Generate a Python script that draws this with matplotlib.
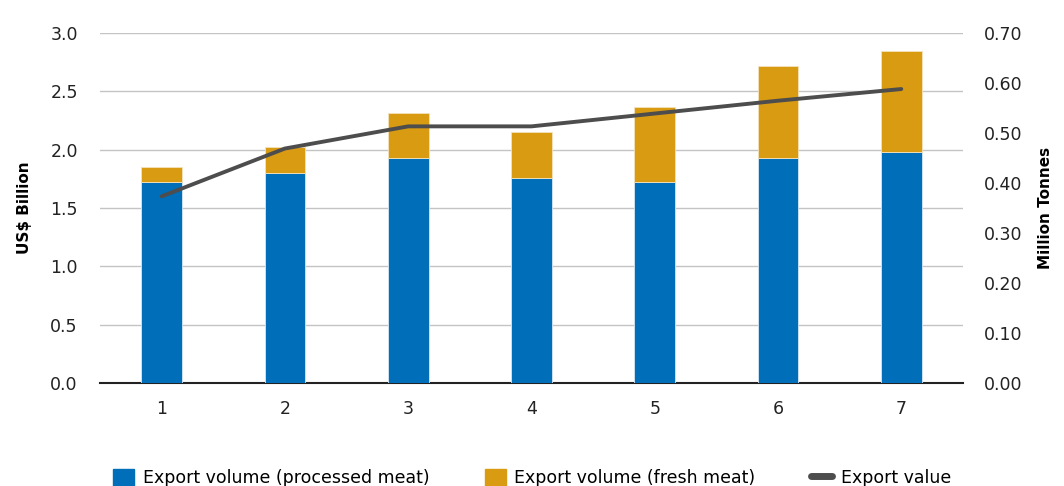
import matplotlib

matplotlib.use("Agg")
import matplotlib.pyplot as plt
from matplotlib.lines import Line2D
from matplotlib.patches import Patch

plt.rcParams["font.family"] = ["DejaVu Sans"]

# === Data ===
years = [1, 2, 3, 4, 5, 6, 7]
processed_mt = [0.403, 0.421, 0.451, 0.410, 0.403, 0.451, 0.463]  # million tonnes
fresh_mt = [0.030, 0.051, 0.090, 0.092, 0.150, 0.184, 0.201]  # million tonnes
export_value = [1.60, 2.01, 2.20, 2.20, 2.31, 2.42, 2.52]  # US$ billion

BLUE = "#006EB8"
GOLD = "#D89B12"
LINE = "#4D4D4D"
GRID = "#C4C4C4"

fig = plt.figure(figsize=(10.64, 4.86), dpi=100)
ax = fig.add_axes([0.094, 0.212, 0.811, 0.72])
ax2 = ax.twinx()

# bars on the volume axis (right), line on the value axis (left)
ax2.bar(years, processed_mt, width=0.33, color=BLUE, edgecolor="#D8E6F2", linewidth=0.6, zorder=2)
ax2.bar(years, fresh_mt, width=0.33, bottom=processed_mt, color=GOLD,
        edgecolor="#F3E2BC", linewidth=0.6, zorder=2)
ax2.plot(
    years,
    [v * 0.7 / 3.0 for v in export_value],
    color=LINE, linewidth=2.8, solid_capstyle="round", zorder=3,
)

ax.set_xlim(0.5, 7.5)
ax.set_ylim(0, 3.0)
ax2.set_ylim(0, 0.70)
ax.set_yticks([0, 0.5, 1.0, 1.5, 2.0, 2.5, 3.0])
ax.set_yticklabels([f"{v:.1f}" for v in ax.get_yticks()])
ax2.set_yticks([0, 0.1, 0.2, 0.3, 0.4, 0.5, 0.6, 0.7])
ax2.set_yticklabels([f"{v:.2f}" for v in ax2.get_yticks()])
ax.set_xticks(years)
ax.set_xticklabels([str(y) for y in years])

ax.grid(axis="y", color=GRID, linewidth=1.0, zorder=0)
ax.set_axisbelow(True)
for a in (ax, ax2):
    for s in ("top", "left", "right", "bottom"):
        a.spines[s].set_visible(False)
    a.tick_params(length=0, labelsize=12.5, colors="#222222")
ax.spines["bottom"].set_visible(True)
ax.spines["bottom"].set_color("#222222")
ax.spines["bottom"].set_linewidth(1.5)
ax.tick_params(axis="y", pad=16)
ax.tick_params(axis="x", pad=12)
ax2.tick_params(axis="y", pad=15)

ax.set_ylabel("US$ Billion", fontsize=11, fontweight="bold", labelpad=13)
ax2.set_ylabel("Million Tonnes", fontsize=11, fontweight="bold", labelpad=11)

handles = [
    Patch(facecolor=BLUE, edgecolor=BLUE, label="Export volume (processed meat)"),
    Patch(facecolor=GOLD, edgecolor=GOLD, label="Export volume (fresh meat)"),
    Line2D([0], [0], color=LINE, linewidth=5, solid_capstyle="round", label="Export value"),
]
fig.legend(
    handles=handles, loc="lower center", bbox_to_anchor=(0.5, -0.035), ncol=3,
    frameon=False, fontsize=12.5, handlelength=1.2, handleheight=1.1,
    handletextpad=0.5, columnspacing=3.2,
)

fig.savefig("out.png", dpi=100)
